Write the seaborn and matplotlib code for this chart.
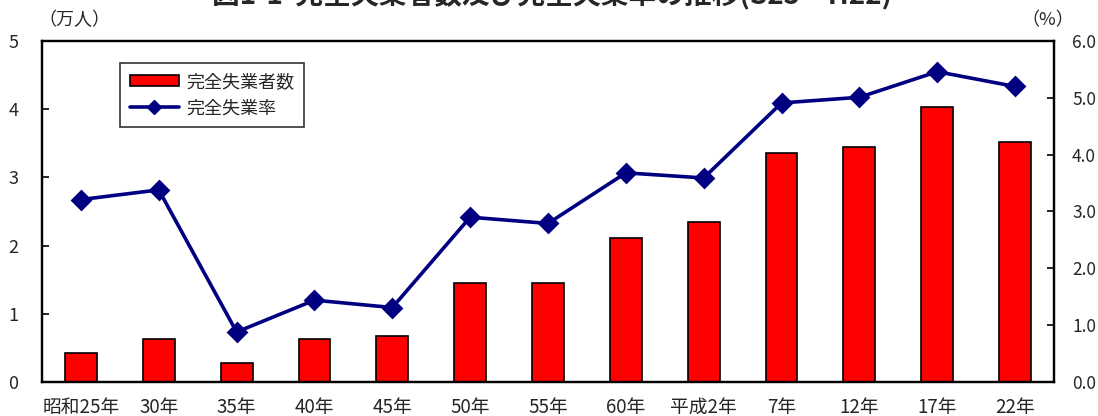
import numpy as np
import pandas as pd
import matplotlib
matplotlib.use("Agg")
import matplotlib.pyplot as plt
import seaborn as sns
from matplotlib.patches import Patch
from matplotlib.lines import Line2D

years = ["昭和25年", "30年", "35年", "40年", "45年", "50年", "55年",
         "60年", "平成2年", "7年", "12年", "17年", "22年"]
unemployed = [0.43, 0.63, 0.28, 0.63, 0.68, 1.45, 1.45, 2.11, 2.34, 3.36, 3.44, 4.03, 3.52]
rate = [3.21, 3.38, 0.88, 1.44, 1.31, 2.90, 2.79, 3.68, 3.59, 4.91, 5.01, 5.46, 5.20]

df = pd.DataFrame({"year": years, "unemployed": unemployed, "rate": rate})

sns.set_style("white")
plt.rcParams["font.family"] = ["Noto Sans CJK JP", "DejaVu Sans"]

fig = plt.figure(figsize=(10.98, 4.16), dpi=100)
ax = fig.add_axes([42 / 1098, 1 - 382 / 416, (1054 - 42) / 1098, (382 - 41) / 416])

sns.barplot(data=df, x="year", y="unemployed", ax=ax, color="#ff0000",
            saturation=1, width=0.41, edgecolor="black", linewidth=1.2)
ax.set_ylim(0, 5)
ax.set_xlim(-0.5, len(years) - 0.5)
ax.set_yticks(range(0, 6))
ax.set_xlabel("")
ax.set_ylabel("")

ax2 = ax.twinx()
sns.pointplot(data=df, x="year", y="rate", ax=ax2, color="#000080",
              markers="D", linestyles="-", markersize=9.5, linewidth=2.6)
ax2.set_ylim(0, 6)
ax2.set_xlim(-0.5, len(years) - 0.5)
ax2.set_yticks(np.arange(0, 7, 1.0))
ax2.set_yticklabels([f"{v:.1f}" for v in np.arange(0, 7, 1.0)])
ax2.set_ylabel("")

for a in (ax, ax2):
    for s in a.spines.values():
        s.set_color("black")
        s.set_linewidth(1.6)
        s.set_visible(True)

ax.tick_params(axis="x", which="major", length=0, pad=10.5, labelsize=13.5)
ax.set_xticks(np.arange(0.5, len(years) - 1, 1.0), minor=True)
ax.tick_params(axis="x", which="minor", direction="in", length=5, width=1.2, color="black")
ax.tick_params(axis="y", direction="in", length=5, width=1.2, color="black", pad=17, labelsize=13, left=True)
ax2.tick_params(axis="y", direction="in", length=5, width=1.2, color="black", pad=13, labelsize=12.5, right=True)

handles = [Patch(facecolor="#ff0000", edgecolor="black", linewidth=1.2),
           Line2D([0], [0], color="#000080", lw=2.6, marker="D", markersize=7)]
leg = ax.legend(handles, ["完全失業者数", "完全失業率"], loc="upper left",
                bbox_to_anchor=((120 - 42) / 1012, 1 - (63 - 41) / 341),
                borderaxespad=0, fontsize=13,
                frameon=True, fancybox=False, edgecolor="black",
                handlelength=2.7, handleheight=0.6, borderpad=0.55,
                labelspacing=0.45, handletextpad=0.4)
leg.get_frame().set_linewidth(1.2)
# pad the frame horizontally like the original box
leg._legend_box.sep = 0

fig.text(38 / 1098, 1 - 20 / 416, "（万人）", ha="left", va="center", fontsize=13)
fig.text(1074 / 1098, 1 - 20 / 416, "（%）", ha="right", va="center", fontsize=13)
fig.text(552 / 1098, 1 - 9 / 416, "図1-1  完全失業者数及び完全失業率の推移(S25～H22)",
         ha="center", va="bottom", fontsize=20, fontweight="bold")

fig.savefig("out.png", dpi=100)
